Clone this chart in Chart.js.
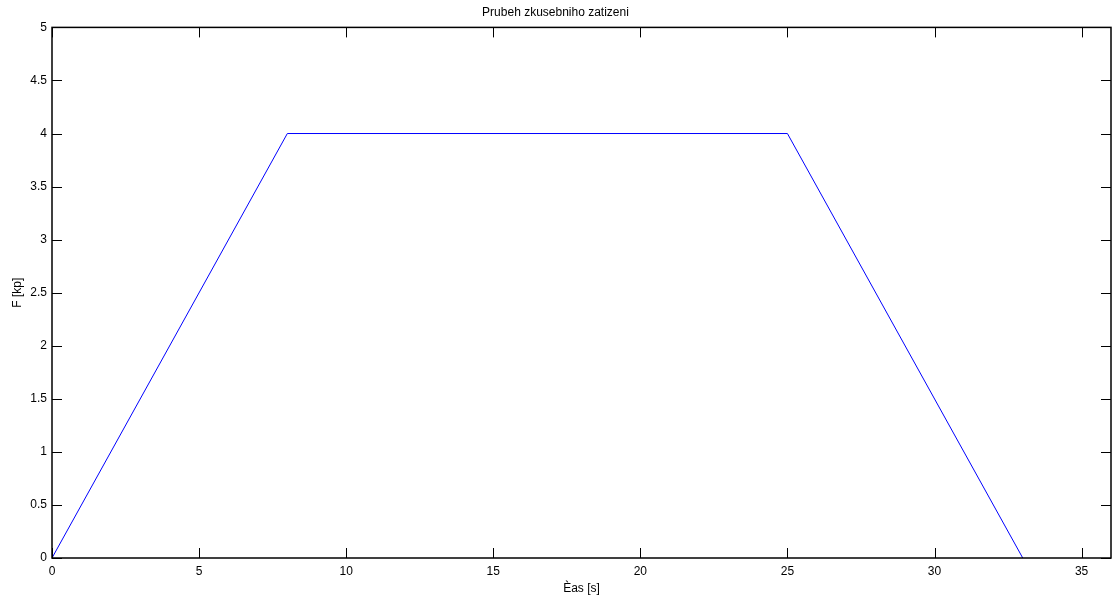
<!DOCTYPE html>
<html>
<head>
<meta charset="UTF-8">
<script src="https://cdn.jsdelivr.net/npm/chart.js"></script>
<style>
  html, body { margin: 0; padding: 0; background: #fff; }
  #wrap { width: 1113px; height: 596px; }
</style>
<title>Prubeh zkusebniho zatizeni</title>
</head>
<body>
<div id="wrap"><canvas id="graf"></canvas></div>
<script>
  // data
  const casy = [0, 8, 25, 33];
  const sily = [0, 4, 4, 0];
  const xTicks = [0, 5, 10, 15, 20, 25, 30, 35];
  const yTicks = [0, 0.5, 1, 1.5, 2, 2.5, 3, 3.5, 4, 4.5, 5];

  const pisma = 'Liberation Sans, Arial, sans-serif';

  // inward ticks on all four sides + full box, like matlab
  const ramecek = {
    id: 'ramecek',
    afterDraw(chart) {
      const ctx = chart.ctx;
      const a = chart.chartArea;
      const sx = chart.scales.x, sy = chart.scales.y;
      const delka = 10;
      ctx.save();
      ctx.strokeStyle = '#000';
      ctx.lineWidth = 1;
      ctx.beginPath();
      xTicks.forEach(v => {
        const px = Math.round(sx.getPixelForValue(v)) + 0.5;
        ctx.moveTo(px, a.bottom); ctx.lineTo(px, a.bottom - delka);
        ctx.moveTo(px, a.top); ctx.lineTo(px, a.top + delka);
      });
      yTicks.forEach(v => {
        const py = Math.round(sy.getPixelForValue(v)) + 0.5;
        ctx.moveTo(a.left, py); ctx.lineTo(a.left + delka, py);
        ctx.moveTo(a.right, py); ctx.lineTo(a.right - delka, py);
      });
      ctx.stroke();
      ctx.lineWidth = 1.5;
      ctx.strokeRect(a.left, a.top, a.right - a.left, a.bottom - a.top);
      ctx.restore();
    }
  };

  const data = {
    datasets: [{
      data: casy.map((c, i) => ({ x: c, y: sily[i] })),
      borderColor: '#0000ff',
      borderWidth: 1,
      pointRadius: 0,
      fill: false,
      tension: 0
    }]
  };

  new Chart(document.getElementById('graf'), {
    type: 'line',
    data: data,
    plugins: [ramecek],
    options: {
      responsive: true,
      maintainAspectRatio: false,
      animation: false,
      layout: { padding: { left: 0, right: 2, top: 0, bottom: 0 } },
      plugins: {
        legend: { display: false },
        tooltip: { enabled: false },
        title: {
          display: true,
          text: 'Prubeh zkusebniho zatizeni',
          color: '#000',
          font: { family: pisma, size: 12, weight: 'normal' },
          padding: { top: 5, bottom: 8 }
        }
      },
      scales: {
        x: {
          type: 'linear',
          min: 0,
          max: 36,
          grid: { display: false, drawTicks: false },
          border: { display: false },
          afterBuildTicks: s => { s.ticks = xTicks.map(v => ({ value: v })); },
          afterFit: s => { s.height = 38; },
          ticks: {
            color: '#000',
            padding: 6,
            maxRotation: 0,
            autoSkip: false,
            font: { family: pisma, size: 12 },
            callback: v => String(v)
          },
          title: {
            display: true,
            text: 'Èas [s]',
            color: '#000',
            font: { family: pisma, size: 12 },
            padding: { top: 0, bottom: 0 }
          }
        },
        y: {
          min: 0,
          max: 5,
          grid: { display: false, drawTicks: false },
          border: { display: false },
          afterBuildTicks: s => { s.ticks = yTicks.map(v => ({ value: v })); },
          afterFit: s => { s.width = 52; },
          ticks: {
            color: '#000',
            padding: 5,
            autoSkip: false,
            font: { family: pisma, size: 12 },
            callback: v => String(v)
          },
          title: {
            display: true,
            text: 'F [kp]',
            color: '#000',
            font: { family: pisma, size: 12 },
            padding: { top: 10, bottom: 0 }
          }
        }
      }
    }
  });
</script>
</body>
</html>
